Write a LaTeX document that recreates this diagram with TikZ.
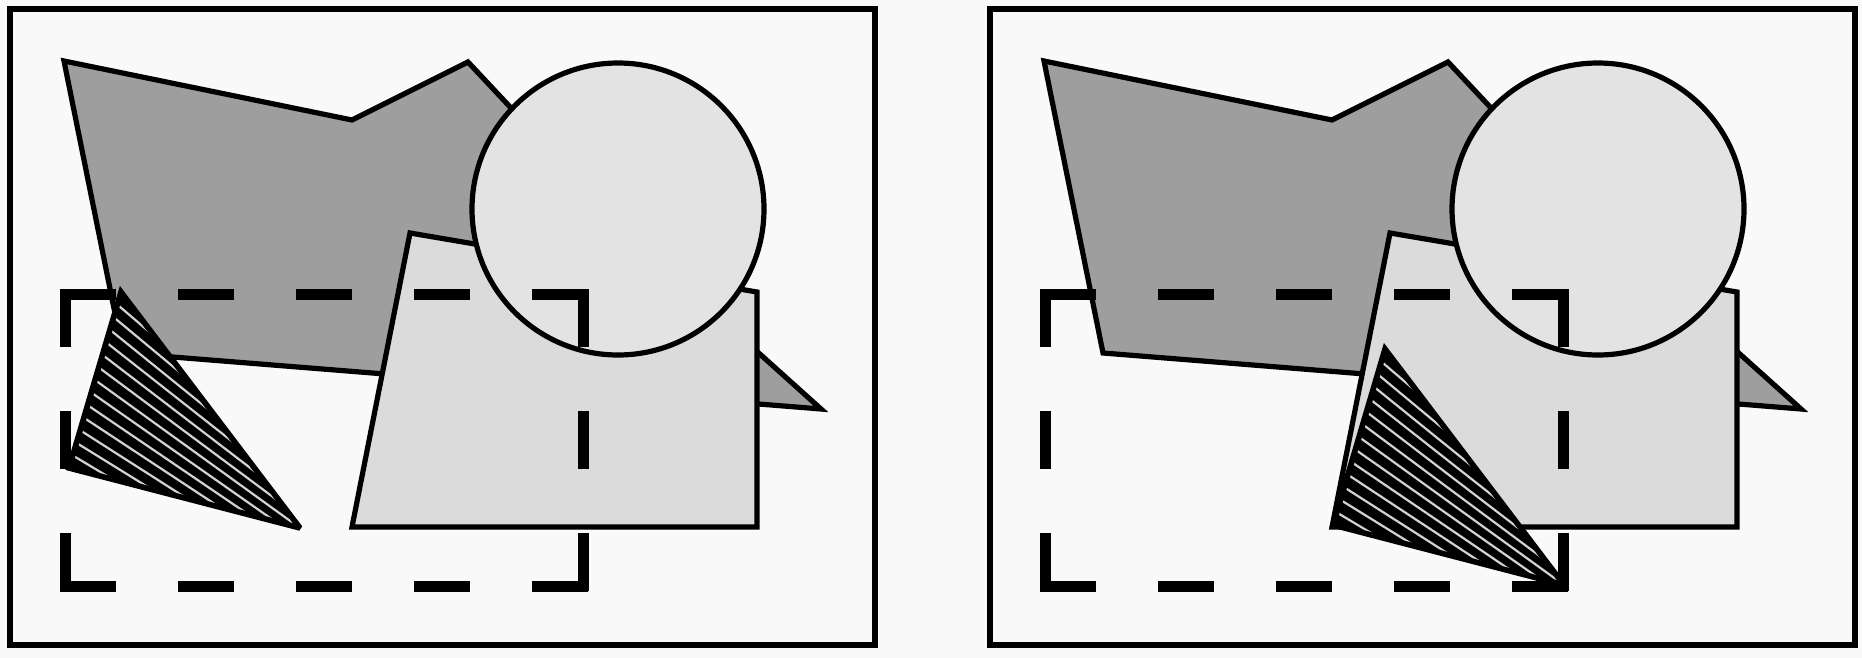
\documentclass[tikz,border=0pt]{standalone}
\usetikzlibrary{calc}
\definecolor{fondo}{gray}{0.975}
\definecolor{grisfuerte}{gray}{0.62}
\definecolor{grisrect}{gray}{0.86}
\definecolor{griscirc}{gray}{0.89}

\begin{document}
\begin{tikzpicture}[x=0.5pt,y=-0.5pt,
  marco/.style={line width=2.6pt},
  borde/.style={line width=2.6pt},
  corteh/.style={line width=5.5pt,dash pattern=on 28pt off 31pt},
  cortev/.style={line width=5.5pt,dash pattern=on 29pt off 32pt}]
% Fondo
\fill[fondo] (0,0) rectangle (1862,658);
\useasboundingbox (0,0) rectangle (1862,658);

% Dos paneles: el triangulo se desplaza en el segundo
\foreach \dx/\tx/\ty in {0/0/0, 980/284/57} {
\begin{scope}[shift={(\dx,0)}]
  % Marco
  \draw[marco] (10,9) rectangle (875,645);

  % Poligono oscuro
  \draw[borde,fill=grisfuerte] (64,61) -- (352,120) -- (468,62) -- (643,249)
    -- (821,409) -- (123,353) -- cycle;

  % Cuadrilatero claro
  \draw[borde,fill=grisrect] (410,233) -- (757,292) -- (757,527) -- (352,527) -- cycle;

  % Circulo
  \draw[borde,fill=griscirc] (618,209) circle[radius=146];

  % Triangulo rayado
  \begin{scope}[shift={(\tx,\ty)}]
    \coordinate (ta) at (121,292);
    \coordinate (tl) at (69,468);
    \coordinate (tr) at (300,528);
    \coordinate (lm) at ($(ta)!0.5!(tl)$);
    \coordinate (q) at ($(lm)!3.5!(tr)$);
    \begin{scope}
      \clip (ta) -- (tl) -- (tr) -- cycle;
      \fill[black] (ta) -- (tl) -- (tr) -- cycle;
      \foreach \i in {1,...,13}
        \draw[gray!35,line width=1.1pt] ($(ta)!\i/14!(tl)$) -- (q);
    \end{scope}
    \draw[line width=2.8pt,miter limit=3] (ta) -- (tl) -- (tr) -- cycle;
  \end{scope}

  % Ventana de recorte
  \draw[corteh] (60,294) -- (588,294);
  \draw[corteh] (60,586) -- (588,586);
  \draw[cortev] (65,289) -- (65,591);
  \draw[cortev] (583,289) -- (583,591);
\end{scope}
}
\end{tikzpicture}
\end{document}
